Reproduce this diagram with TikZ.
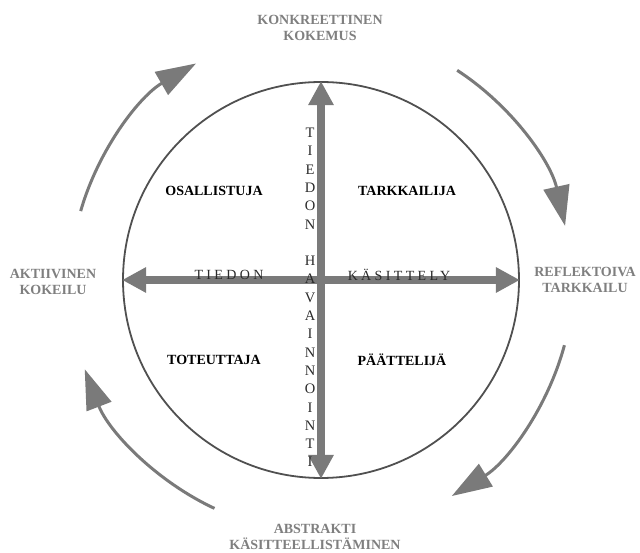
\documentclass[tikz,border=0pt]{standalone}
\usepackage{fontspec}
\setmainfont{Liberation Serif}
\newfontfamily\spacedfont[LetterSpace=24]{Liberation Serif}
\usetikzlibrary{arrows.meta}
\definecolor{arrowgray}{HTML}{7A7A7A}
\definecolor{labelgray}{HTML}{7F7F7F}
\definecolor{ringgray}{HTML}{505050}
\definecolor{axistext}{HTML}{2A2A2A}
\begin{document}
\begin{tikzpicture}[x=1pt,y=1pt,
  outerlabel/.style={font=\bfseries\fontsize{14}{16}\selectfont, text=labelgray, align=center, inner sep=0},
  quadlabel/.style={font=\bfseries\fontsize{14}{16}\selectfont, text=black, inner sep=0},
  axislabel/.style={font=\spacedfont\fontsize{14}{16}\selectfont, text=axistext, inner sep=0},
  columnlabel/.style={font=\fontsize{14.5}{18.3}\selectfont, text=axistext, align=center, inner sep=0},
  axisarrow/.style={line width=8pt, draw=arrowgray, {Triangle[length=24pt,width=24pt]}-{Triangle[length=24pt,width=24pt]}},
  cyclearrow/.style={line width=3pt, draw=arrowgray, -{Triangle[length=40pt,width=26pt]}},
]
\useasboundingbox (0,0) rectangle (640,552);
\coordinate (C) at (321,272);
\node[circle, draw=ringgray, line width=1.8pt, minimum size=396pt, inner sep=0] (ring) at (C) {};

% axes
\draw[axisarrow] (ring.west) -- (ring.east);
\draw[axisarrow] (ring.north) -- (ring.south);

% cycle arrows
\coordinate (s1) at ([shift={(164:250)}]C);
\coordinate (s2) at ([shift={(57:250)}]C);
\coordinate (s3) at ([shift={(-15:252)}]C);
\coordinate (s4) at ([shift={(-115:252)}]C);
\draw[cyclearrow] (s1) arc[start angle=164, end angle=120, radius=250];
\draw[cyclearrow] (s2) arc[start angle=57, end angle=12.5, radius=250];
\draw[cyclearrow] (s3) arc[start angle=-15, end angle=-58.5, radius=254];
\draw[cyclearrow] (s4) arc[start angle=-115, end angle=-159, radius=254];

% axis texts
\node[axislabel] (tiedon) at (229,277) {TIEDON};
\node[axislabel] (kasittely) at (399,277) {KÄSITTELY};
\node[columnlabel] (havainnointi) at (310,254.5) {T\\I\\E\\D\\O\\N\\[18.3pt]H\\A\\V\\A\\I\\N\\N\\O\\I\\N\\T\\I};

% quadrant labels
\node[quadlabel] (osallistuja) at (214,361) {OSALLISTUJA};
\node[quadlabel] (tarkkailija) at (407,361) {TARKKAILIJA};
\node[quadlabel] (toteuttaja) at (214,192) {TOTEUTTAJA};
\node[quadlabel] (paattelija) at (402,192) {PÄÄTTELIJÄ};

% outer labels
\node[outerlabel] (konkreettinen) at (320,524) {KONKREETTINEN\\KOKEMUS};
\node[outerlabel] (aktiivinen) at (53,270) {AKTIIVINEN\\KOKEILU};
\node[outerlabel] (reflektoiva) at (585,272) {REFLEKTOIVA\\TARKKAILU};
\node[outerlabel] (abstrakti) at (315,15) {ABSTRAKTI\\KÄSITTEELLISTÄMINEN};
\end{tikzpicture}
\end{document}
